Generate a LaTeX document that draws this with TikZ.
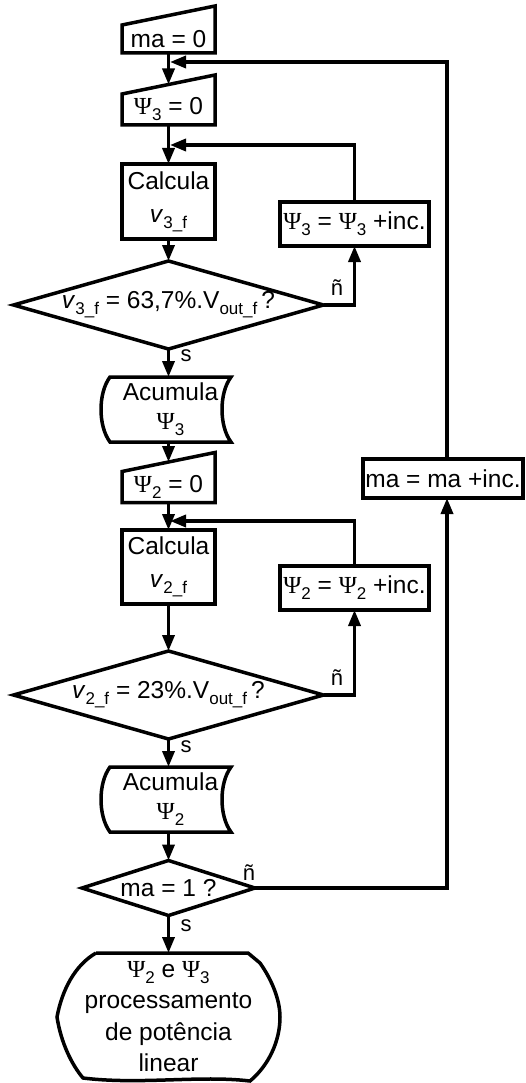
\documentclass[tikz,border=0pt]{standalone}
\usepackage{fontspec}
\setmainfont{Liberation Sans}
\newfontfamily\psifont{Liberation Serif}
\usetikzlibrary{arrows.meta,calc}

% lowered, smaller index text
\newcommand\sbs[1]{\raisebox{-6pt}{\fontsize{17}{17}\selectfont #1}}
% Psi with an index
\newcommand\Ps[1]{{\psifont Ψ}\sbs{#1}}

\begin{document}
\begin{tikzpicture}[x=1pt,y=-1pt,
  every node/.style={inner sep=0pt, outer sep=0pt, align=center,
    font=\fontsize{24.5}{33}\selectfont},
  ln/.style={line width=3.5pt, line join=miter},
  arr/.style={ln, -{Triangle[length=16pt,width=12pt]}},
  lbl/.style={font=\fontsize{22}{22}\selectfont},
]
\useasboundingbox (0,0) rectangle (525,1083);

% ---------- main column ----------
\node[minimum width=93pt, minimum height=28pt] (m0) at (168.5,39) {ma = 0};
\draw[ln] (m0.south west) -- (m0.north west) -- ($(m0.north east)+(0,-19)$) -- (m0.south east) -- cycle;

\node[minimum width=93pt, minimum height=31pt] (p3) at (168.5,109.5) {\Ps{3} = 0};
\draw[ln] (p3.south west) -- (p3.north west) -- ($(p3.north east)+(0,-19)$) -- (p3.south east) -- cycle;
\coordinate (p3in) at ($(p3.north)+(0,-9.5)$);

\node[minimum width=93pt, minimum height=75pt] (c3) at (168.5,201.5) {Calcula\\\textit{v}\sbs{3\_f}};
\draw[ln] (c3.south west) -- (c3.north west) -- (c3.north east) -- (c3.south east) -- cycle;

\node[minimum width=310pt, minimum height=88pt] (d3) at (168.5,305)
  {\textit{v}\sbs{3\_f} = 63,7\%.V\sbs{out\_f}\,?};
\draw[ln] (d3.west) -- (d3.north) -- (d3.east) -- (d3.south) -- cycle;

\node[minimum width=149pt, minimum height=44pt] (i3) at (354.5,224) {\Ps{3} = \Ps{3} +inc.};
\draw[ln] (i3.south west) -- (i3.north west) -- (i3.north east) -- (i3.south east) -- cycle;

\node[minimum width=121pt, minimum height=65pt] (a3) at (170.5,409.5) {Acumula\\[-4pt]\Ps{3}};
\draw[ln] (a3.north west) -- (a3.north east)
  .. controls ($(a3.north east)+(-12,16)$) and ($(a3.south east)+(-12,-16)$) .. (a3.south east)
  -- (a3.south west)
  .. controls ($(a3.south west)+(-12,-16)$) and ($(a3.north west)+(-12,16)$) .. cycle;

\node[minimum width=93pt, minimum height=31pt] (p2) at (168.5,487) {\Ps{2} = 0};
\draw[ln] (p2.south west) -- (p2.north west) -- ($(p2.north east)+(0,-19)$) -- (p2.south east) -- cycle;
\coordinate (p2in) at ($(p2.north)+(0,-9.5)$);

\node[minimum width=93pt, minimum height=74pt] (c2) at (168.5,567) {Calcula\\\textit{v}\sbs{2\_f}};
\draw[ln] (c2.south west) -- (c2.north west) -- (c2.north east) -- (c2.south east) -- cycle;

\node[minimum width=310pt, minimum height=88pt] (d2) at (168.5,695)
  {\textit{v}\sbs{2\_f} = 23\%.V\sbs{out\_f}\,?};
\draw[ln] (d2.west) -- (d2.north) -- (d2.east) -- (d2.south) -- cycle;

\node[minimum width=149pt, minimum height=44pt] (i2) at (354.5,588) {\Ps{2} = \Ps{2} +inc.};
\draw[ln] (i2.south west) -- (i2.north west) -- (i2.north east) -- (i2.south east) -- cycle;

\node[minimum width=121pt, minimum height=65pt] (a2) at (170.5,799.5) {Acumula\\[-4pt]\Ps{2}};
\draw[ln] (a2.north west) -- (a2.north east)
  .. controls ($(a2.north east)+(-12,16)$) and ($(a2.south east)+(-12,-16)$) .. (a2.south east)
  -- (a2.south west)
  .. controls ($(a2.south west)+(-12,-16)$) and ($(a2.north west)+(-12,16)$) .. cycle;

\node[minimum width=173pt, minimum height=55pt] (q) at (168.5,888) {ma = 1 ?};
\draw[ln] (q.west) -- (q.north) -- (q.east) -- (q.south) -- cycle;

\node[minimum width=160pt, minimum height=39pt] (mi) at (443,478.5) {ma = ma +inc.};
\draw[ln] (mi.south west) -- (mi.north west) -- (mi.north east) -- (mi.south east) -- cycle;

% terminal
\node[minimum width=180pt, minimum height=127pt, font=\fontsize{24.5}{31.5}\selectfont] (t) at (168.5,1016.5)
  {\Ps{2} e \Ps{3}\\processamento\\de potência\\linear};
\draw[ln] (96,953) -- (248,953) -- (260,963)
  .. controls (272,980) and (280,1000) .. (280,1017)
  .. controls (280,1042) and (268,1066) .. (250,1081)
  .. controls (200,1075) and (140,1085) .. (83,1078)
  .. controls (72,1065) and (61,1043) .. (57,1017)
  .. controls (62,990) and (75,965) .. (96,953);

% ---------- junctions ----------
\coordinate (j0) at (170,62);
\coordinate (j3) at (170,145);
\coordinate (j2) at (170,521);
\coordinate (rx) at (447,0);

% ---------- connectors ----------
\draw[arr] (m0.south) -- (p3in);
\draw[arr] (p3.south) -- (c3.north);
\draw[arr] (c3.south) -- (d3.north);
\draw[arr] (d3.east) -| (i3.south);
\draw[arr] (i3.north) |- (j3);
\draw[arr] (d3.south) -- (d3.south |- a3.north);
\draw[arr] (a3.south -| d3.south) -- (p2in);
\draw[arr] (p2.south) -- (c2.north);
\draw[arr] (c2.south) -- (d2.north);
\draw[arr] (d2.east) -| (i2.south);
\draw[arr] (i2.north) |- (j2);
\draw[arr] (d2.south) -- (d2.south |- a2.north);
\draw[arr] (a2.south -| d2.south) -- (q.north);
\draw[arr] (q.south) -- (q.south |- t.north);
\draw[arr] (q.east) -| (mi.south -| rx);
\draw[arr] (mi.north -| rx) |- (j0);

% ---------- branch labels ----------
\node[lbl] (n3) at (337,288) {ñ};
\node[lbl] (s3) at (186,356) {s};
\node[lbl] (n2) at (337,678) {ñ};
\node[lbl] (s2) at (186,747) {s};
\node[lbl] (nq) at (249,873) {ñ};
\node[lbl] (sq) at (186,926) {s};
\end{tikzpicture}
\end{document}
